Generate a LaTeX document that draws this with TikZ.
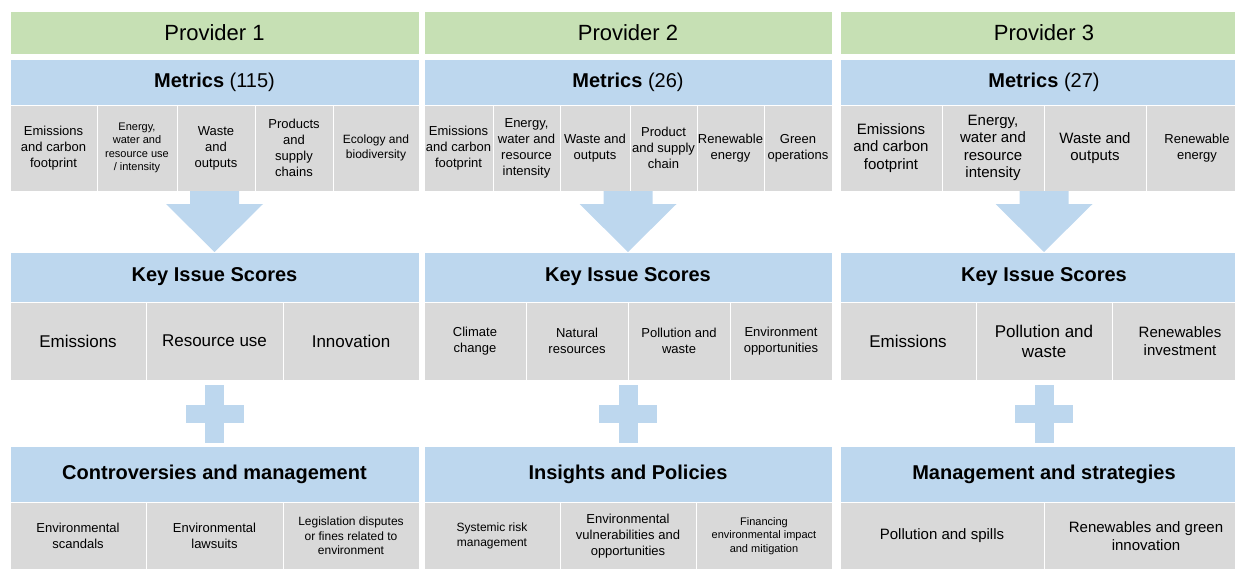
\documentclass[tikz,border=0pt]{standalone}
\usepackage{fontspec}
\setmainfont{Liberation Sans}
\usepackage{xcolor}
\usepackage{tikz}
\usetikzlibrary{positioning}

\definecolor{provgreen}{RGB}{198,224,180}
\definecolor{headblue}{RGB}{189,215,238}
\definecolor{cellgrey}{RGB}{217,217,217}

\tikzset{
  cellbox/.style={anchor=north west, inner sep=0pt, outer sep=0pt, draw=white, line width=1pt, align=center},
  provtitle/.style={cellbox, fill=provgreen, minimum width=408pt, minimum height=43pt, font=\fontsize{22}{26}\selectfont},
  hdr/.style={cellbox, fill=headblue, minimum width=408pt, font=\fontsize{20}{24}\selectfont},
  cell/.style={cellbox, fill=cellgrey},
  metcell/.style={cell, minimum height=86pt},
  keycell/.style={cell, minimum height=78pt},
  ctlcell/.style={cell, minimum height=68pt},
  f11/.style={font=\fontsize{11}{13.5}\selectfont},
  f12/.style={font=\fontsize{12}{14.5}\selectfont},
  f13/.style={font=\fontsize{13}{16}\selectfont},
  f15/.style={font=\fontsize{15}{17.5}\selectfont},
  f17/.style={font=\fontsize{17}{20}\selectfont}
}

\begin{document}
\begin{tikzpicture}[x=1pt, y=-1pt]
  \useasboundingbox (0,0) rectangle (1235,568);
  \clip (0,0) rectangle (1235,568);

  % Provider headers
  \node[provtitle, minimum width=409pt] (p1title) at (10,11) {Provider 1};
  \node[provtitle] (p2title) at (424,11) {Provider 2};
  \node[provtitle] (p3title) at (840,11) {Provider 3};

  % Metrics headers
  \node[hdr, minimum width=409pt, minimum height=46pt] (p1met) at (10,59) {\textbf{Metrics} (115)};
  \node[hdr, minimum height=46pt] (p2met) at (424,59) {\textbf{Metrics} (26)};
  \node[hdr, minimum height=46pt] (p3met) at (840,59) {\textbf{Metrics} (27)};

  % Metrics, provider 1
  \node[metcell, f13, minimum width=87pt] (p1m1) at (10,105) {Emissions\\and carbon\\footprint};
  \node[metcell, f11, minimum width=80pt, right=0pt of p1m1] (p1m2) {Energy,\\water and\\resource use\\/ intensity};
  \node[metcell, f13, minimum width=78pt, right=0pt of p1m2] (p1m3) {Waste\\and\\outputs};
  \node[metcell, f13, minimum width=78pt, right=0pt of p1m3] (p1m4) {Products\\and\\supply\\chains};
  \node[metcell, f12, minimum width=86pt, right=0pt of p1m4] (p1m5) {Ecology and\\biodiversity};

  % Metrics, provider 2
  \node[metcell, f13, minimum width=69pt] (p2m1) at (424,105) {Emissions\\and carbon\\footprint};
  \node[metcell, f13, minimum width=67pt, right=0pt of p2m1] (p2m2) {Energy,\\water and\\resource\\intensity};
  \node[metcell, f13, minimum width=70pt, right=0pt of p2m2] (p2m3) {Waste and\\outputs};
  \node[metcell, f13, minimum width=67pt, right=0pt of p2m3] (p2m4) {Product\\and supply\\chain};
  \node[metcell, f13, minimum width=67pt, right=0pt of p2m4] (p2m5) {Renewable\\energy};
  \node[metcell, f13, minimum width=68pt, right=0pt of p2m5] (p2m6) {Green\\operations};

  % Metrics, provider 3
  \node[metcell, f15, minimum width=102pt] (p3m1) at (840,105) {Emissions\\and carbon\\footprint};
  \node[metcell, f15, minimum width=102pt, right=0pt of p3m1] (p3m2) {Energy,\\water and\\resource\\intensity};
  \node[metcell, f15, minimum width=102pt, right=0pt of p3m2] (p3m3) {Waste and\\outputs};
  \node[metcell, f13, minimum width=102pt, right=0pt of p3m3] (p3m4) {Renewable\\energy};

  % Block arrows down to the key issue scores
  \fill[headblue] (p1title.center |- p1m1.south) ++(-24.5,0) -- ++(49,0) -- ++(0,13) -- ++(24,0)
    -- ++(-48.5,48) -- ++(-48.5,-48) -- ++(24,0) -- cycle;
  \fill[headblue] (p2title.center |- p2m1.south) ++(-24.5,0) -- ++(49,0) -- ++(0,13) -- ++(24,0)
    -- ++(-48.5,48) -- ++(-48.5,-48) -- ++(24,0) -- cycle;
  \fill[headblue] (p3title.center |- p3m1.south) ++(-24.5,0) -- ++(49,0) -- ++(0,13) -- ++(24,0)
    -- ++(-48.5,48) -- ++(-48.5,-48) -- ++(24,0) -- cycle;

  % Key issue headers
  \node[hdr, minimum width=409pt, minimum height=50pt] (p1key) at (10,252) {\textbf{Key Issue Scores}};
  \node[hdr, minimum height=50pt] (p2key) at (424,252) {\textbf{Key Issue Scores}};
  \node[hdr, minimum height=50pt] (p3key) at (840,252) {\textbf{Key Issue Scores}};

  % Key issues, provider 1
  \node[keycell, f17, minimum width=136pt] (p1k1) at (10,302) {Emissions};
  \node[keycell, f17, minimum width=137pt, right=0pt of p1k1] (p1k2) {Resource use};
  \node[keycell, f17, minimum width=136pt, right=0pt of p1k2] (p1k3) {Innovation};

  % Key issues, provider 2
  \node[keycell, f13, minimum width=102pt] (p2k1) at (424,302) {Climate\\change};
  \node[keycell, f13, minimum width=102pt, right=0pt of p2k1] (p2k2) {Natural\\resources};
  \node[keycell, f13, minimum width=102pt, right=0pt of p2k2] (p2k3) {Pollution and\\waste};
  \node[keycell, f13, minimum width=102pt, right=0pt of p2k3] (p2k4) {Environment\\opportunities};

  % Key issues, provider 3
  \node[keycell, f17, minimum width=136pt] (p3k1) at (840,302) {Emissions};
  \node[keycell, f17, minimum width=136pt, right=0pt of p3k1] (p3k2) {Pollution and\\waste};
  \node[keycell, f15, minimum width=136pt, right=0pt of p3k2] (p3k3) {Renewables\\investment};

  % Plus signs
  \fill[headblue] (p1title.center |- p1k1.south) ++(-9.5,5) rectangle ++(19,58);
  \fill[headblue] (p1title.center |- p1k1.south) ++(-29,25) rectangle ++(58,18);
  \fill[headblue] (p2title.center |- p2k1.south) ++(-9.5,5) rectangle ++(19,58);
  \fill[headblue] (p2title.center |- p2k1.south) ++(-29,25) rectangle ++(58,18);
  \fill[headblue] (p3title.center |- p3k1.south) ++(-9.5,5) rectangle ++(19,58);
  \fill[headblue] (p3title.center |- p3k1.south) ++(-29,25) rectangle ++(58,18);

  % Bottom headers
  \node[hdr, minimum width=409pt, minimum height=56pt] (p1ctl) at (10,446) {\textbf{Controversies and management}};
  \node[hdr, minimum height=56pt] (p2ctl) at (424,446) {\textbf{Insights and Policies}};
  \node[hdr, minimum height=56pt] (p3ctl) at (840,446) {\textbf{Management and strategies}};

  % Bottom cells
  \node[ctlcell, f13, minimum width=136pt] (p1c1) at (10,502) {Environmental\\scandals};
  \node[ctlcell, f13, minimum width=137pt, right=0pt of p1c1] (p1c2) {Environmental\\lawsuits};
  \node[ctlcell, f12, minimum width=136pt, right=0pt of p1c2] (p1c3) {Legislation disputes\\or fines related to\\environment};

  \node[ctlcell, f12, minimum width=136pt] (p2c1) at (424,502) {Systemic risk\\management};
  \node[ctlcell, f13, minimum width=136pt, right=0pt of p2c1] (p2c2) {Environmental\\vulnerabilities and\\opportunities};
  \node[ctlcell, f11, minimum width=136pt, right=0pt of p2c2] (p2c3) {Financing\\environmental impact\\and mitigation};

  \node[ctlcell, f15, minimum width=204pt] (p3c1) at (840,502) {Pollution and spills};
  \node[ctlcell, f15, minimum width=204pt, right=0pt of p3c1] (p3c2) {Renewables and green\\innovation};
\end{tikzpicture}
\end{document}
